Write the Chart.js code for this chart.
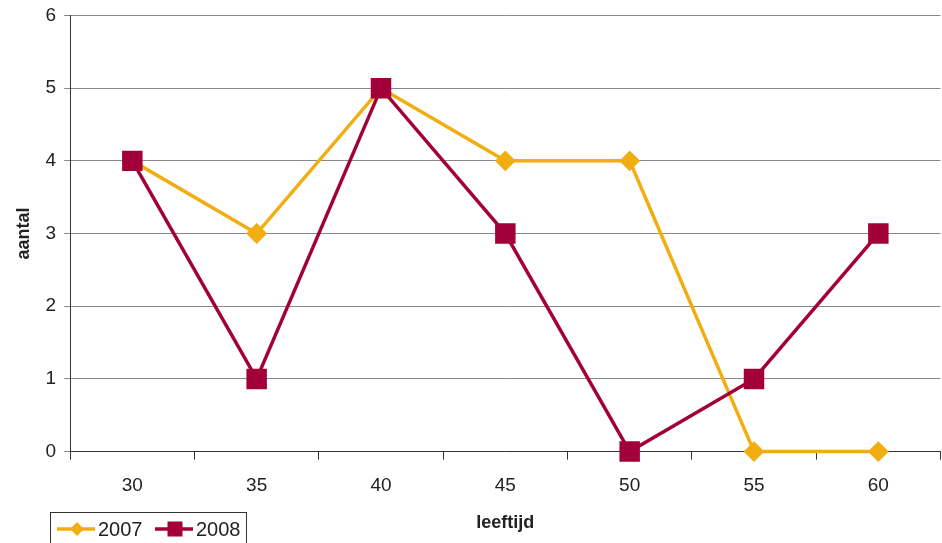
<!doctype html>
<html>
<head>
<meta charset="utf-8" />
<title>aantal per leeftijd</title>
<script src="https://cdn.jsdelivr.net/npm/chart.js@4/dist/chart.umd.min.js"></script>
<style>
html, body { margin:0; padding:0; overflow:hidden; background:#fff; }
#wrap { width:942px; height:543px; position:relative; }
</style>
</head>
<body>
<div id="wrap"><canvas id="chart1"></canvas></div>
<script>
var ages = ["30", "35", "40", "45", "50", "55", "60"];
var values2007 = [4, 3, 5, 4, 4, 0, 0];
var values2008 = [4, 1, 5, 3, 0, 1, 3];
var yellow = "#f0ae12";
var red = "#a3003a";
var fontFam = "'Liberation Sans', Arial, sans-serif";
var overhang = 14; // original plot runs past the right edge of the picture

// stretch the plot area past the right edge
var stretchRight = {
  id: "stretchRight",
  afterLayout: function(chart) {
    var x = chart.scales.x;
    x.right += overhang;
    x.width += overhang;
    x.configure();
    chart.chartArea.right += overhang;
    chart.chartArea.width += overhang;
  }
};

// legend drawn in a box at the bottom left, like the original
var boxLegend = {
  id: "boxLegend",
  afterDraw: function(chart) {
    var c = chart.ctx;
    c.save();
    c.strokeStyle = "#333";
    c.lineWidth = 1;
    c.strokeRect(50.5, 512.5, 196, 40);
    c.font = "20px " + fontFam;
    c.textBaseline = "middle";
    var items = [{x: 57, ds: chart.data.datasets[0]}, {x: 155, ds: chart.data.datasets[1]}];
    items.forEach(function(it) {
      var y = 529;
      c.strokeStyle = it.ds.borderColor;
      c.lineWidth = 3.5;
      c.beginPath();
      c.moveTo(it.x, y);
      c.lineTo(it.x + 38, y);
      c.stroke();
      c.fillStyle = it.ds.borderColor;
      var mx = it.x + 20;
      if (it.ds.pointStyle === "rectRot") {
        c.beginPath();
        c.moveTo(mx, y - 7); c.lineTo(mx + 7, y); c.lineTo(mx, y + 7); c.lineTo(mx - 7, y);
        c.closePath(); c.fill();
      } else {
        c.fillRect(mx - 7.5, y - 7.5, 15, 15);
      }
      c.fillStyle = "#222";
      c.fillText(it.ds.label, it.x + 41, y + 1);
    });
    c.restore();
  }
};

new Chart("chart1", {
  type: "line",
  data: {
    labels: ages,
    datasets: [{
      label: "2007",
      data: values2007,
      order: 1,
      borderColor: yellow,
      backgroundColor: yellow,
      borderWidth: 3.5,
      pointStyle: "rectRot",
      pointRadius: 8,
      pointHoverRadius: 8,
      fill: false,
      clip: false,
      tension: 0
    }, {
      label: "2008",
      data: values2008,
      order: 0,
      borderColor: red,
      backgroundColor: red,
      borderWidth: 3.5,
      pointStyle: "rect",
      pointRadius: 12,
      pointHoverRadius: 12,
      fill: false,
      clip: false,
      tension: 0
    }]
  },
  options: {
    responsive: true,
    maintainAspectRatio: false,
    animation: false,
    layout: { padding: { top: -2, left: 4, right: 0, bottom: -6 } },
    plugins: { legend: { display: false }, tooltip: { enabled: false } },
    scales: {
      x: {
        offset: true,
        grid: { display: true, drawOnChartArea: false, offset: true, tickLength: 8, color: "#333" },
        border: { color: "#333", width: 1 },
        ticks: { color: "#222", font: { size: 19, family: fontFam }, padding: 15 },
        title: { display: true, text: "leeftijd", color: "#222", font: { size: 18, weight: "bold", family: fontFam }, padding: { top: 0, bottom: 15 } }
      },
      y: {
        min: 0,
        max: 6,
        ticks: { stepSize: 1, color: "#222", font: { size: 19, family: fontFam, lineHeight: 0.7 }, padding: 8 },
        grid: { color: "#888", tickLength: 6 },
        border: { color: "#333", width: 1 },
        title: { display: true, text: "aantal", color: "#222", font: { size: 18, weight: "bold", family: fontFam }, padding: { top: 9, bottom: 3 } }
      }
    }
  },
  plugins: [stretchRight, boxLegend]
});
</script>
</body>
</html>
